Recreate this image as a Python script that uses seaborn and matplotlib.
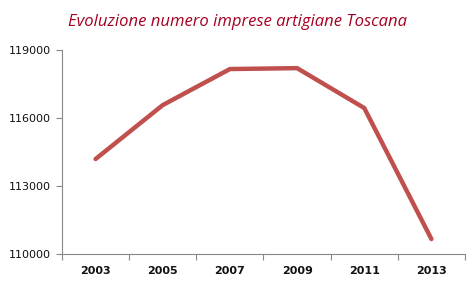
import matplotlib
matplotlib.use("Agg")
import matplotlib.pyplot as plt
import seaborn as sns
import pandas as pd

years = ["2003", "2005", "2007", "2009", "2011", "2013"]
imprese = [114190, 116570, 118160, 118200, 116440, 110660]
yticks = [110000, 113000, 116000, 119000]

sns.set_style("white")
plt.rcParams['font.family'] = ['DejaVu Sans']

df = pd.DataFrame({"pos": range(len(years)), "val": imprese})

fig = plt.figure(figsize=(4.75, 2.93), dpi=100)
ax = fig.add_axes([62/475, 1-254/293, (465-62)/475, (254-50)/293])
sns.lineplot(data=df, x="pos", y="val", ax=ax, color="#C0504D", linewidth=3.2,
             solid_capstyle="round", solid_joinstyle="round")
ax.set_xlim(-0.5, len(years) - 0.5)
ax.set_ylim(yticks[0], yticks[-1])
ax.set_yticks(yticks)
ax.set_yticklabels([str(v) for v in yticks], fontsize=8, color="#111111")
ax.set_xticks([i - 0.5 for i in range(len(years) + 1)])
ax.set_xticklabels([])
ax.set_xticks(range(len(years)), minor=True)
ax.set_xticklabels(years, minor=True, fontsize=8, fontweight="bold", color="#111111")
ax.tick_params(axis="x", which="minor", bottom=False, length=0, pad=9)
ax.tick_params(axis="x", which="major", bottom=True, length=4, width=0.8,
               color="#888888", direction="out")
ax.tick_params(axis="y", left=True, length=4, width=0.8, color="#888888",
               direction="out", pad=4)
ax.set_xlabel("")
ax.set_ylabel("")
for s in ["top", "right"]:
    ax.spines[s].set_visible(False)
for s in ["left", "bottom"]:
    ax.spines[s].set_color("#888888")
    ax.spines[s].set_linewidth(0.8)

fig.text(0.5, 1 - 22/293, "Evoluzione numero imprese artigiane Toscana",
         ha="center", va="center", fontsize=12, style="italic",
         color="#A50021", family=["Open Sans", "DejaVu Sans"])
fig.savefig("out.png", dpi=100)
